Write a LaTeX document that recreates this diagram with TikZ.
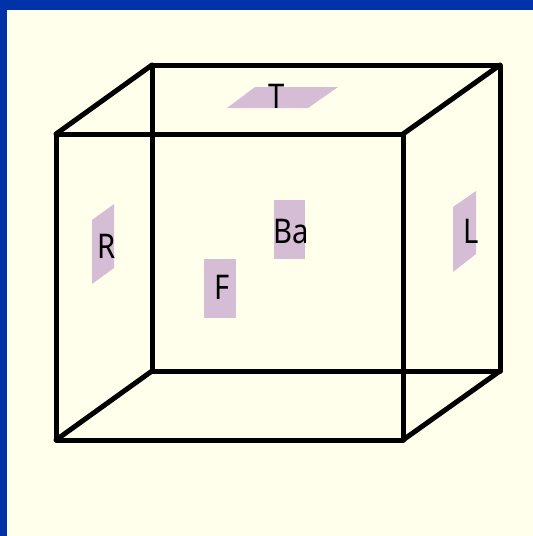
\documentclass[tikz,border=0pt]{standalone}
\usepackage{fontspec}
\setmainfont{Noto Sans}[FakeStretch=0.86]
\definecolor{frameblue}{HTML}{0033AA}
\definecolor{paper}{HTML}{FFFFEC}
\definecolor{patch}{HTML}{D6BDD6}
\tikzset{
  edge/.style={line width=5pt,black,line cap=round,line join=round},
  patchface/.style={fill=patch,draw=none},
  lab/.style={inner sep=0pt,text=black,font=\fontsize{34}{34}\selectfont,anchor=base}
}
\begin{document}
\begin{tikzpicture}[x=1pt,y=-1pt]
\useasboundingbox (0,0) rectangle (533,536);
\fill[frameblue] (0,0) rectangle (533,536);
\fill[paper] (7,9.5) rectangle (533,536);
% patches
\fill[patchface] (92,220) -- (114,204) -- (114,268) -- (92,284) -- cycle;
\fill[patchface] (274,200) rectangle (305,259);
\fill[patchface] (204,259) rectangle (236,318);
\fill[patchface] (227,108) -- (308,108) -- (338,87) -- (255,87) -- cycle;
\fill[patchface] (453,207) -- (476,191) -- (476,254) -- (453,272) -- cycle;
% corners
\coordinate (ftl) at (56,134);
\coordinate (ftr) at (403,134);
\coordinate (fbl) at (56,440);
\coordinate (fbr) at (403,440);
\coordinate (btl) at (152,65);
\coordinate (btr) at (500,65);
\coordinate (bbl) at (152,371);
\coordinate (bbr) at (500,371);
\draw[edge] (ftl) -- (ftr) -- (fbr) -- (fbl) -- cycle;
\draw[edge] (btl) -- (btr) -- (bbr) -- (bbl) -- cycle;
\draw[edge] (ftl) -- (btl);
\draw[edge] (ftr) -- (btr);
\draw[edge] (fbl) -- (bbl);
\draw[edge] (fbr) -- (bbr);
% labels
\node[lab] (r) at (107,258) {R};
\node[lab] (ba) at (291,243) {Ba};
\node[lab] (f) at (222,299) {F};
\node[lab] (t) at (277,108) {T};
\node[lab] (l) at (471,243) {L};
\end{tikzpicture}
\end{document}
